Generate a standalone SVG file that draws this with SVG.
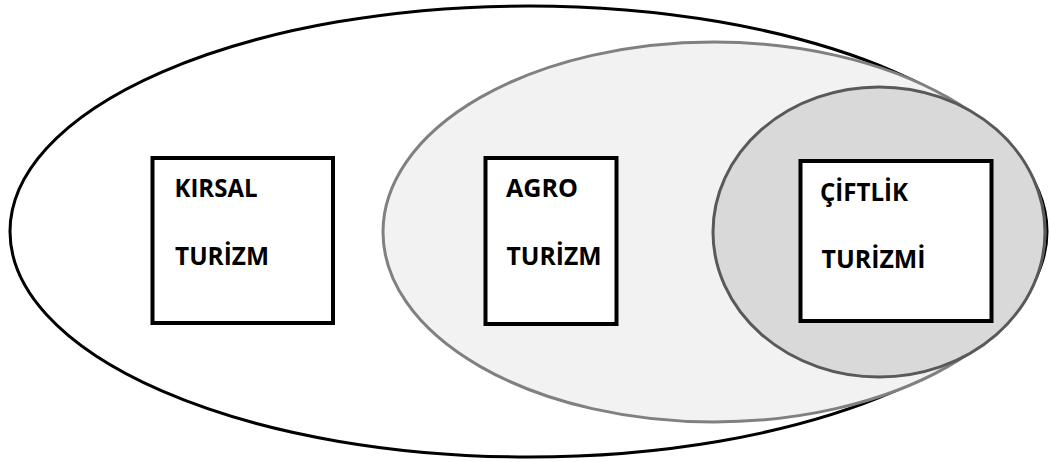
<svg xmlns="http://www.w3.org/2000/svg" width="1049" height="462" viewBox="0 0 1049 462">
  <style>
    .box { fill: #ffffff; stroke: #000000; stroke-width: 4; }
    .lbl { font-family: "Open Sans", "Liberation Sans", sans-serif; font-weight: bold; font-size: 24.5px; fill: #000000; }
  </style>
  <rect width="1049" height="462" fill="#ffffff"/>
  <g id="kirsal-area">
    <ellipse cx="528.5" cy="231.5" rx="518.5" ry="225.5" fill="#ffffff" stroke="#000000" stroke-width="3"/>
  </g>
  <g id="agro-area">
    <ellipse cx="714" cy="232" rx="331" ry="190" fill="#f2f2f2" stroke="#808080" stroke-width="3"/>
  </g>
  <g id="ciftlik-area">
    <ellipse cx="879" cy="232" rx="166" ry="145" fill="#d9d9d9" stroke="#595959" stroke-width="3"/>
  </g>
  <g id="kirsal-turizm">
    <rect class="box" x="152.5" y="158" width="180.5" height="165"/>
    <text class="lbl" x="174.5" y="197" textLength="83" lengthAdjust="spacingAndGlyphs">KIRSAL</text>
    <text class="lbl" x="175" y="265" textLength="94" lengthAdjust="spacingAndGlyphs">TURİZM</text>
  </g>
  <g id="agro-turizm">
    <rect class="box" x="485.5" y="158" width="131" height="166"/>
    <text class="lbl" x="506" y="197" textLength="72" lengthAdjust="spacingAndGlyphs">AGRO</text>
    <text class="lbl" x="506.5" y="265" textLength="95" lengthAdjust="spacingAndGlyphs">TURİZM</text>
  </g>
  <g id="ciftlik-turizmi">
    <rect class="box" x="800.5" y="161" width="191" height="160"/>
    <text class="lbl" x="820" y="200.5" textLength="88" lengthAdjust="spacingAndGlyphs">ÇİFTLİK</text>
    <text class="lbl" x="821.5" y="267.5" textLength="104" lengthAdjust="spacingAndGlyphs">TURİZMİ</text>
  </g>
</svg>
